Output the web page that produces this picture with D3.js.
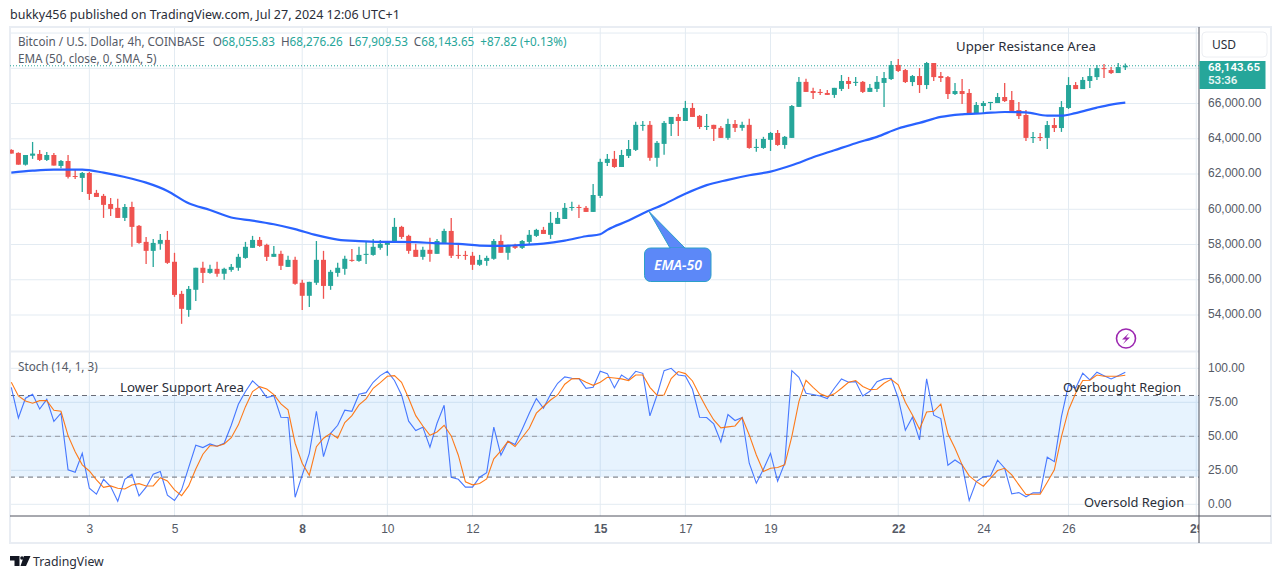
<!DOCTYPE html>
<html>
<head>
<meta charset="utf-8">
<script src="https://cdn.jsdelivr.net/npm/d3@7"></script>
<style>
  body { margin: 0; background: #fff; }
  svg { display: block; font-family: "Noto Sans", sans-serif; }
</style>
</head>
<body>
<svg id="chart" width="1281" height="579"></svg>
<script>
// 4h candles
const opens = [63370,63200,62530,63040,63140,62800,63080,62460,62740,61890,61780,62060,60930,60760,60300,60080,59510,60130,59060,58150,57640,58040,58260,57020,55200,54290,55430,56680,56390,56620,56340,56560,56680,57240,57810,58260,57980,57300,57470,56730,57130,55830,55090,55830,57130,55650,56390,56620,57130,57070,57410,57410,57810,57980,58150,59000,58490,57700,57300,57700,57470,58090,58770,57410,57410,57360,56850,57070,57190,58200,57530,57980,57810,58150,58490,58830,58550,59170,59450,60080,60130,60080,59850,60760,62630,62860,62400,63030,63370,64730,64790,62920,63710,64840,65240,65010,65750,65300,64670,64790,64620,64050,64840,64620,64790,63480,63480,63940,64330,63650,64050,65810,67230,66710,66660,66600,66490,66830,67280,67170,67230,66660,66830,67170,67390,68190,67900,67220,67560,67050,68300,67560,67500,66540,66710,66600,65460,65860,66030,66030,66370,66200,65630,65350,64050,64100,64050,64780,64610,65750,67050,66820,67280,67500,68010,67900,67730,68055.83];
const highs = [63400,63230,63080,63820,63370,63250,63200,62800,63080,62290,62120,62120,61100,60870,60640,60590,60300,60420,59110,58430,58320,58600,58770,57530,55370,55650,56680,57020,56850,57020,56680,56900,57470,58150,58490,58430,58040,57920,57640,57360,57300,56000,55880,58200,57640,56560,56960,57360,57750,57870,58150,58320,58260,58200,59510,59060,58550,58040,57870,58380,58320,58890,59510,57980,57640,57580,57410,57360,58320,58550,57980,58040,58260,58830,58890,59000,59850,59850,60360,60420,60250,60190,61440,62860,63140,63310,63370,63930,64960,65010,65010,63880,65010,65240,65410,66150,66030,65350,65410,64790,64730,65130,65070,64960,65130,63990,64110,64390,64500,64160,65920,67510,67400,66890,66830,66770,66890,67620,67510,67510,67280,67110,67570,67790,68410,68530,67960,67620,68010,68360,68300,67790,67560,67160,67390,66820,66090,66140,66090,66600,67160,66710,66090,65630,64390,64330,65010,65180,66140,67500,67220,67500,68010,68190,68240,68070,68300,68276.26];
const lows = [63160,62530,62480,62860,62740,62740,62480,62330,61740,61720,60980,60530,60700,59510,59620,59510,59340,57870,58040,56900,56730,57700,56900,55030,53500,53900,54800,55820,56340,56170,56000,56450,56510,57190,57810,57870,57070,57300,56560,56730,55710,54290,54460,55710,54920,55430,56170,56280,57020,57020,56900,57360,57700,57360,58150,58320,57470,57300,57130,57020,57470,58040,57240,57190,57130,56560,56790,56790,57130,57530,57130,57750,57750,57980,58430,58600,58320,59170,59450,59910,59510,59850,59850,60640,62460,62350,62400,62910,63310,64450,62750,62410,63090,64160,64160,65010,65240,64560,64500,63880,64050,63940,64390,64450,63430,63260,63430,63310,63600,63430,64050,65810,66660,66260,66490,66490,66320,66710,66830,67000,66600,66660,66660,65810,67340,67790,67160,66990,66600,66820,67280,67220,66260,66490,65970,65460,65410,65460,65630,66030,66090,65520,65120,63880,63760,63880,63420,64390,64390,65690,66820,66820,66880,67340,67450,67680,67730,67909.53];
const closes = [63160,62530,63080,63160,62800,63080,62480,62740,61840,61840,62060,60870,60700,60250,60020,59510,60130,59000,58090,57640,58090,58260,56960,55140,54350,55480,56680,56390,56620,56340,56620,56730,57300,57870,58260,57920,57300,57470,56790,57130,55770,55090,55880,57130,55650,56450,56680,57190,57070,57410,57470,57870,58040,58200,59000,58430,57640,57300,57700,57470,58200,58770,57360,57360,57360,56850,57130,57240,58200,57530,57920,57810,58200,58550,58830,58600,59230,59510,60080,60130,60080,59850,60810,62690,62860,62400,63080,63420,64790,64790,62920,63770,64900,65240,65010,65750,65240,64670,64730,64560,64050,64840,64620,64790,63480,63540,63990,64330,63650,64110,65860,67230,66660,66600,66600,66490,66890,67280,67110,67230,66660,66890,67230,67450,68190,67850,67220,67560,67050,68300,67500,67450,66540,66710,66540,65460,65920,66030,66090,66370,66140,65580,65290,64050,64100,64050,64780,64610,65800,67050,66820,67340,67560,68010,67960,67730,68070,68143.65];

// EMA (50, close, 0, SMA, 5), read at every few bars
const emaBars = [0,3,6,9,10,13,16,19,22,25,28,31,34,37,40,43,46,49,52,54,57,60,63,66,69,72,75,78,81,83,84,87,89,92,95,98,101,104,107,110,113,116,119,122,125,128,131,134,137,140,143,146,148,150,153,155,157];
const emaValues = [62080,62190,62250,62250,62250,62080,61830,61510,61040,60340,59960,59530,59360,59150,58870,58530,58280,58190,58150,58150,58130,58070,58040,57940,57920,57980,58050,58220,58470,58580,58830,59360,59760,60290,60880,61370,61670,61930,62140,62500,62950,63350,63750,64110,64580,64900,65240,65390,65450,65520,65500,65310,65310,65460,65770,65940,66050];

// Stoch (14, 1, 3)
const stochK = [86.0,63.5,78.0,80.9,70.1,77.2,61.0,67.0,25.3,23.6,37.5,11.8,7.4,18.4,13.0,2.3,18.4,22.1,6.2,12.6,22.1,24.1,6.7,2.8,10.6,27.2,43.4,41.7,44.4,42.7,44.9,58.1,73.6,82.9,90.7,86.0,78.5,79.9,64.0,63.8,5.2,21.4,37.5,68.4,
  35.1,52.2,58.1,69.2,68.4,80.9,82.1,89.7,94.6,97.8,91.0,80.4,61.1,54.2,56.7,42.0,59.6,72.8,19.9,18.4,12.6,12.6,19.9,23.3,56.7,36.1,46.4,43.9,55.2,67.0,77.7,70.6,80.9,89.0,93.7,92.7,92.4,85.3,86.0,97.8,96.1,85.6,95.1,91.7,97.8,
  96.3,65.0,80.2,98.3,100,95.1,94.4,84.6,64.0,63.8,59.1,45.9,66.0,61.6,63.8,30.2,15.5,25.8,37.5,17.0,30.2,98.3,93.4,81.6,80.7,79.7,77.7,85.3,92.2,89.7,90.2,79.7,83.1,90.2,92.2,92.7,78.0,54.5,64.0,47.4,92.2,65.5,63.0,28.7,32.6,
  29.0,2.8,16.7,20.2,20.9,32.4,26.5,7.7,8.6,5.5,8.4,8.4,34.6,31.4,64.5,87.8,85.3,96.4,91.4,97.1,94.6,92.2,94.6,97.1];
const stochD = [89.7,79.7,76.0,74.3,76.2,76.2,69.1,68.4,50.5,38.7,29.0,24.5,17.9,12.5,13.5,11.8,11.3,14.2,15.2,13.5,13.5,19.6,17.2,10.6,6.4,13.5,26.0,36.8,43.2,42.7,44.4,49.0,58.4,71.8,82.9,86.5,84.8,80.6,73.8,69.4,44.9,30.2,21.4,42.4,
  48.6,52.2,48.6,60.1,65.2,73.1,77.5,85.3,89.5,94.1,94.6,89.7,78.0,65.2,57.6,50.8,53.2,58.1,50.3,36.1,16.5,14.3,15.3,18.7,33.4,39.3,46.4,42.5,49.1,55.9,67.0,71.9,76.7,80.4,88.3,92.2,92.4,89.7,87.5,89.7,93.4,92.9,92.2,91.0,95.1,
  95.1,86.0,80.2,80.4,92.4,97.6,96.1,90.7,80.4,70.6,62.0,56.2,56.9,57.6,63.8,51.0,36.3,24.1,26.5,27.0,29.0,49.8,75.5,91.2,86.0,81.2,79.2,81.2,85.3,89.7,91.0,86.6,84.3,84.6,89.0,91.9,87.8,75.0,65.7,55.2,67.9,68.4,73.6,51.8,41.2,
  29.0,20.9,16.7,13.3,19.2,24.8,26.5,21.6,14.3,7.2,7.4,7.4,16.2,25.3,49.8,69.4,81.7,91.0,91.2,95.1,94.1,94.1,94.1,94.9];

// axis ticks
const dayLabels = ["3","5","8","10","12","15","17","19","22","24","26","29"];
const dayBars = [11,23,41,53,65,83,95,107,125,137,149,167];
const boldDays = ["8","15","22","29"];
const priceGrid = [54000,56000,58000,60000,62000,64000,66000,68000,70000];
const priceLabels = [54000,56000,58000,60000,62000,64000,66000];
const stochLevels = [0,25,50,75,100];
const lastPrice = 68143.65;

const UP = "#26a69a", DOWN = "#ef5350", GRID = "#e3ebf2", TEXT = "#555a66";

const svg = d3.select("#chart");
const plotL = 10, plotR = 1199, plotT = 27, sep = 351.5, plotB = 516, outerR = 1271, outerB = 543;

const x = d3.scaleLinear().domain([0, 157]).range([11.3, 1125.3]);
const y = d3.scaleLinear().domain([54000, 68000]).range([315, 68.3]);
const ys = d3.scaleLinear().domain([0, 100]).range([504.3, 368.3]);

const defs = svg.append("defs");
defs.append("clipPath").attr("id", "plot").append("rect")
  .attr("x", plotL).attr("y", plotT).attr("width", plotR - plotL).attr("height", plotB - plotT);
defs.append("clipPath").attr("id", "xlabels").append("rect")
  .attr("x", plotL).attr("y", 0).attr("width", plotR - plotL).attr("height", outerB - plotB);

// header line
svg.append("text").attr("x", 10).attr("y", 19)
  .attr("font-size", 12.5).attr("fill", "#2a2e39")
  .text("bukky456 published on TradingView.com, Jul 27, 2024 12:06 UTC+1");

// grid
const grid = svg.append("g").attr("stroke", GRID).attr("stroke-width", 1);
grid.selectAll(".v").data(dayBars).enter().append("line")
  .attr("x1", d => x(d)).attr("x2", d => x(d)).attr("y1", plotT).attr("y2", plotB);
grid.selectAll(".h").data(priceGrid).enter().append("line")
  .attr("x1", plotL).attr("x2", plotR).attr("y1", d => y(d)).attr("y2", d => y(d));
grid.selectAll(".s").data(stochLevels).enter().append("line")
  .attr("x1", plotL).attr("x2", plotR).attr("y1", d => ys(d)).attr("y2", d => ys(d));

// stoch band
svg.append("rect").attr("x", plotL).attr("width", plotR - plotL)
  .attr("y", ys(80)).attr("height", ys(20) - ys(80))
  .attr("fill", "#2196f3").attr("opacity", 0.11);
svg.selectAll(".lvl").data([80, 50, 20]).enter().append("line")
  .attr("x1", plotL).attr("x2", plotR).attr("y1", d => ys(d)).attr("y2", d => ys(d))
  .attr("stroke", d => d == 50 ? "#9598a1" : "#6a6d78")
  .attr("stroke-dasharray", "5,4");

// frame
const frame = svg.append("g").attr("fill", "none").attr("stroke", "#e9edf3").attr("stroke-width", 2);
frame.append("rect").attr("x", 10).attr("y", plotT).attr("width", outerR - 10).attr("height", outerB - plotT);
frame.append("line").attr("x1", plotL).attr("x2", plotR).attr("y1", sep).attr("y2", sep);
svg.append("line").attr("x1", plotR).attr("x2", plotR).attr("y1", plotT).attr("y2", outerB)
  .attr("stroke", "#50535e");
svg.append("line").attr("x1", plotL).attr("x2", outerR).attr("y1", plotB).attr("y2", plotB)
  .attr("stroke", "#50535e");

// candles
const plot = svg.append("g").attr("clip-path", "url(#plot)");
const candles = d3.range(opens.length).map(i => ({ i, o: opens[i], h: highs[i], l: lows[i], c: closes[i] }));

plot.append("line").attr("x1", plotL).attr("x2", plotR)
  .attr("y1", y(lastPrice)).attr("y2", y(lastPrice))
  .attr("stroke", UP).attr("stroke-dasharray", "1,2");

plot.selectAll(".wick").data(candles).enter().append("line")
  .attr("x1", d => x(d.i)).attr("x2", d => x(d.i))
  .attr("y1", d => y(d.h)).attr("y2", d => y(d.l))
  .attr("stroke", d => d.c >= d.o ? UP : DOWN).attr("stroke-width", 1.3);
plot.selectAll(".bar").data(candles).enter().append("rect")
  .attr("x", d => x(d.i) - 2.5).attr("width", 5)
  .attr("y", d => y(Math.max(d.o, d.c)))
  .attr("height", d => Math.max(1, Math.abs(y(d.o) - y(d.c))))
  .attr("fill", d => d.c >= d.o ? UP : DOWN);

// EMA line
const emaLine = d3.line().x((d, i) => x(emaBars[i])).y(d => y(d)).curve(d3.curveMonotoneX);
plot.append("path").attr("d", emaLine(emaValues))
  .attr("fill", "none").attr("stroke", "#2962ff").attr("stroke-width", 2.2);

// stoch lines
const stochLine = d3.line().x((d, i) => x(i)).y(d => ys(d));
plot.append("path").attr("d", stochLine(stochK))
  .attr("fill", "none").attr("stroke", "#2962ff").attr("stroke-width", 1.1).attr("opacity", 0.85);
plot.append("path").attr("d", stochLine(stochD))
  .attr("fill", "none").attr("stroke", "#ff6d00").attr("stroke-width", 1.1).attr("opacity", 0.9);

// EMA-50 callout
const callout = svg.append("g");
callout.append("path")
  .attr("d", "M649 211.5 L670 248 L685 248 Z")
  .attr("fill", "#5c88f8").attr("stroke", "#2c9fc9").attr("stroke-width", 1);
callout.append("rect").attr("x", 644.5).attr("y", 248).attr("width", 66.5).attr("height", 33.5).attr("rx", 6)
  .attr("fill", "#5c88f8").attr("stroke", "#2c9fc9").attr("stroke-width", 1);
callout.append("path").attr("d", "M670.5 248.6 L684.5 248.6").attr("stroke", "#5c88f8").attr("stroke-width", 1.6);
callout.append("text").attr("x", 678).attr("y", 269.5).attr("text-anchor", "middle")
  .attr("font-size", 14).attr("font-style", "italic").attr("font-weight", 600).attr("fill", "#fff")
  .text("EMA-50");

// legends
const legend = svg.append("text").attr("x", 18).attr("y", 46).attr("font-size", 11.7).attr("fill", TEXT);
legend.append("tspan").text("Bitcoin / U.S. Dollar, 4h, COINBASE");
[["O", "68,055.83"], ["H", "68,276.26"], ["L", "67,909.53"], ["C", "68,143.65"]].forEach((d, i) => {
  legend.append("tspan").attr("dx", i == 0 ? 8 : 6).text(d[0]);
  legend.append("tspan").attr("fill", UP).text(d[1]);
});
legend.append("tspan").attr("dx", 6).attr("fill", UP).text("+87.82 (+0.13%)");
svg.append("text").attr("x", 18).attr("y", 63).attr("font-size", 11.7).attr("fill", TEXT)
  .text("EMA (50, close, 0, SMA, 5)");
svg.append("text").attr("x", 18).attr("y", 371).attr("font-size", 11.7).attr("fill", TEXT)
  .text("Stoch (14, 1, 3)");

// notes on the chart
const notes = [
  ["Upper Resistance Area", 956, 51, 13.2],
  ["Lower Support Area", 120, 392, 13.3],
  ["Overbought Region", 1063, 392, 12.8],
  ["Oversold Region", 1084, 507, 12.9]
];
svg.selectAll(".note").data(notes).enter().append("text")
  .attr("x", d => d[1]).attr("y", d => d[2])
  .attr("font-size", d => d[3]).attr("fill", "#2a2e39").text(d => d[0]);

// price axis
const priceAxis = svg.append("g").attr("transform", `translate(${plotR},-1)`)
  .call(d3.axisRight(y).tickValues(priceLabels).tickSize(0).tickPadding(9).tickFormat(d3.format(",.2f")));
const stochAxis = svg.append("g").attr("transform", `translate(${plotR},-1)`)
  .call(d3.axisRight(ys).tickValues(stochLevels).tickSize(0).tickPadding(9).tickFormat(d3.format(".2f")));
[priceAxis, stochAxis].forEach(a => {
  a.select(".domain").remove();
  a.selectAll("text").attr("font-family", "inherit").attr("font-size", 12).attr("fill", TEXT);
});

// time axis
const timeAxis = svg.append("g").attr("transform", `translate(0,${plotB})`).attr("clip-path", "url(#xlabels)");
timeAxis.call(d3.axisBottom(x).tickValues(dayBars).tickSize(0).tickPadding(8)
  .tickFormat((d, i) => dayLabels[i]));
timeAxis.select(".domain").remove();
timeAxis.selectAll("text").attr("font-family", "inherit").attr("font-size", 12).attr("fill", TEXT)
  .attr("font-weight", (d, i) => boldDays.includes(dayLabels[i]) ? 600 : 400);

// last price tag and currency button
svg.append("rect").attr("x", plotR + 0.5).attr("y", 61).attr("width", 66).attr("height", 28).attr("fill", UP);
svg.append("text").attr("x", 1208).attr("y", 70.5).attr("font-family", "Roboto").attr("font-size", 11.5)
  .attr("font-weight", 600).attr("fill", "#fff")
  .text(d3.format(",.2f")(lastPrice));
svg.append("text").attr("x", 1208).attr("y", 84).attr("font-family", "Roboto").attr("font-size", 11.5)
  .attr("font-weight", 600).attr("fill", "#e8f6f4")
  .text("53:36");
svg.append("rect").attr("x", 1202).attr("y", 32).attr("width", 65).attr("height", 25).attr("rx", 4)
  .attr("fill", "#fff").attr("stroke", "#eceef2");
svg.append("text").attr("x", 1212).attr("y", 49).attr("font-size", 12).attr("fill", "#2a2e39").text("USD");

// bolt icon
svg.append("circle").attr("cx", 1126).attr("cy", 338.5).attr("r", 9.5)
  .attr("fill", "#fff").attr("stroke", "#9c27b0").attr("stroke-width", 1.6);
svg.append("path").attr("d", "M1129 333 L1122 339.5 L1126 339.5 L1123 344 L1130 337.5 L1126 337.5 Z")
  .attr("fill", "#9c27b0");

// TradingView mark
svg.append("path").attr("fill", "#131722")
  .attr("d", "M10 556 H19.5 V566 H14.5 V560.5 H10 Z M24 556 H30.5 L26 566 H20.5 Z");
svg.append("circle").attr("cx", 22).attr("cy", 558).attr("r", 1.8).attr("fill", "#131722");
svg.append("text").attr("x", 33).attr("y", 566).attr("font-size", 12.3).attr("fill", "#2a2e39").text("TradingView");
</script>
</body>
</html>
